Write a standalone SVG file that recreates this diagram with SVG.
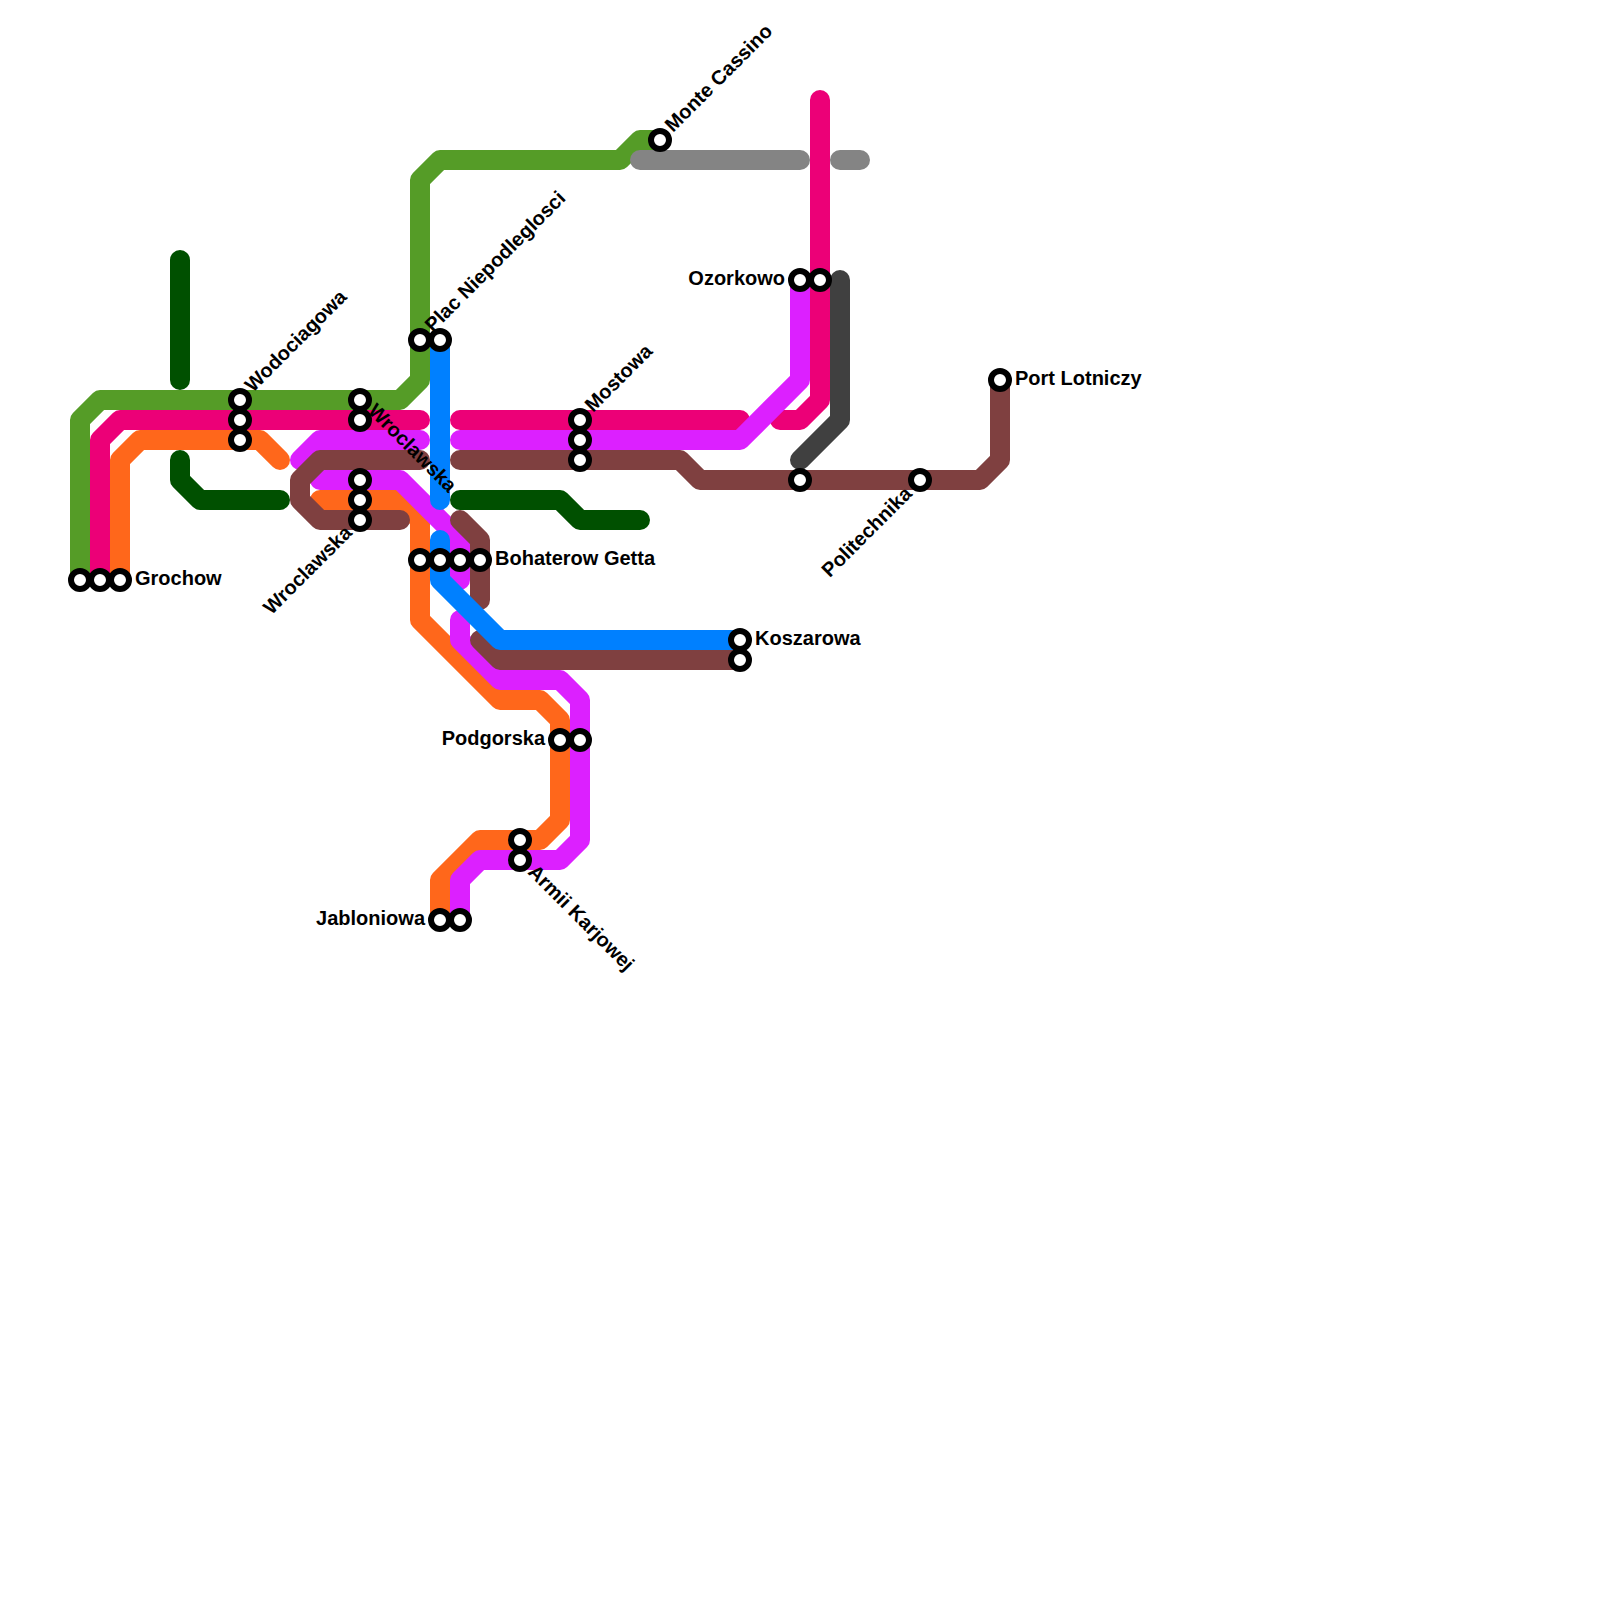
<svg xmlns="http://www.w3.org/2000/svg" width="1600" height="1600" viewBox="0 0 1600 1600">
<style>
.l{fill:none;stroke-width:20;stroke-linecap:round;stroke-linejoin:round}
.st{fill:#fff;stroke:#000;stroke-width:6}
text{font-family:"Liberation Sans",Arial,sans-serif;font-weight:bold;font-size:20px;fill:#000}
.e{text-anchor:end}
</style>
<rect width="1600" height="1600" fill="#fff"/>
<g id="connectors">
<path class="l" stroke="#559C27" d="M80,580V420L100,400H400L420,380V180L440,160H620L640,140H660"/>
<path class="l" stroke="#EC0077" d="M100,580V440L120,420H420M460,420H740M780,420H800L820,400V100"/>
<path class="l" stroke="#FF671B" d="M120,580V460L140,440H260L280,460M320,500H400L420,520V620L500,700H540L560,720V820L540,840H480L440,880V920"/>
<path class="l" stroke="#005000" d="M180,260V380M180,460V480L200,500H280M460,500H560L580,520H640"/>
<path class="l" stroke="#DC20FF" d="M300,460L320,440H420M460,440H740L800,380V280M320,480H400L460,540V580M460,620V640L500,680H560L580,700V840L560,860H480L460,880V920"/>
<path class="l" stroke="#7F4040" d="M420,460H320L300,480V500L320,520H400M460,460H680L700,480H980L1000,460V380M460,520L480,540V600M480,640L500,660H740"/>
<path class="l" stroke="#0080FF" d="M440,340V500M440,540V580L500,640H740"/>
<path class="l" stroke="#848484" d="M640,160H800M840,160H860"/>
<path class="l" stroke="#404040" d="M800,460L840,420V280"/>
</g>
<g id="grochow"><circle class="st" cx="80" cy="580" r="9"/><circle class="st" cx="100" cy="580" r="9"/><circle class="st" cx="120" cy="580" r="9"/><text x="135" y="585">Grochow</text></g>
<g id="wodociagowa"><circle class="st" cx="240" cy="400" r="9"/><circle class="st" cx="240" cy="420" r="9"/><circle class="st" cx="240" cy="440" r="9"/><text transform="translate(253,393) rotate(-45)">Wodociagowa</text></g>
<g id="wroclawska-a"><circle class="st" cx="360" cy="400" r="9"/><circle class="st" cx="360" cy="420" r="9"/><text transform="translate(367,412) rotate(45)">Wroclawska</text></g>
<g id="wroclawska-b"><circle class="st" cx="360" cy="480" r="9"/><circle class="st" cx="360" cy="500" r="9"/><circle class="st" cx="360" cy="520" r="9"/><text class="e" transform="translate(353,534) rotate(-45)">Wroclawska</text></g>
<g id="plac"><circle class="st" cx="420" cy="340" r="9"/><circle class="st" cx="440" cy="340" r="9"/><text transform="translate(433,333) rotate(-45)">Plac Niepodleglosci</text></g>
<g id="bohaterow"><circle class="st" cx="420" cy="560" r="9"/><circle class="st" cx="440" cy="560" r="9"/><circle class="st" cx="460" cy="560" r="9"/><circle class="st" cx="480" cy="560" r="9"/><text x="495" y="565">Bohaterow Getta</text></g>
<g id="mostowa"><circle class="st" cx="580" cy="420" r="9"/><circle class="st" cx="580" cy="440" r="9"/><circle class="st" cx="580" cy="460" r="9"/><text transform="translate(593,413) rotate(-45)">Mostowa</text></g>
<g id="monte"><circle class="st" cx="660" cy="140" r="9"/><text transform="translate(673,133) rotate(-45)">Monte Cassino</text></g>
<g id="koszarowa"><circle class="st" cx="740" cy="640" r="9"/><circle class="st" cx="740" cy="660" r="9"/><text x="755" y="645">Koszarowa</text></g>
<g id="podgorska"><circle class="st" cx="560" cy="740" r="9"/><circle class="st" cx="580" cy="740" r="9"/><text class="e" x="545" y="745">Podgorska</text></g>
<g id="armii"><circle class="st" cx="520" cy="840" r="9"/><circle class="st" cx="520" cy="860" r="9"/><text transform="translate(527,873) rotate(45)">Armii Karjowej</text></g>
<g id="jabloniowa"><circle class="st" cx="440" cy="920" r="9"/><circle class="st" cx="460" cy="920" r="9"/><text class="e" x="425" y="925">Jabloniowa</text></g>
<g id="ozorkowo"><circle class="st" cx="800" cy="280" r="9"/><circle class="st" cx="820" cy="280" r="9"/><text class="e" x="785" y="285">Ozorkowo</text></g>
<g id="unnamed"><circle class="st" cx="800" cy="480" r="9"/></g>
<g id="politechnika"><circle class="st" cx="920" cy="480" r="9"/><text class="e" transform="translate(913,495) rotate(-45)">Politechnika</text></g>
<g id="port"><circle class="st" cx="1000" cy="380" r="9"/><text x="1015" y="385">Port Lotniczy</text></g>
</svg>
